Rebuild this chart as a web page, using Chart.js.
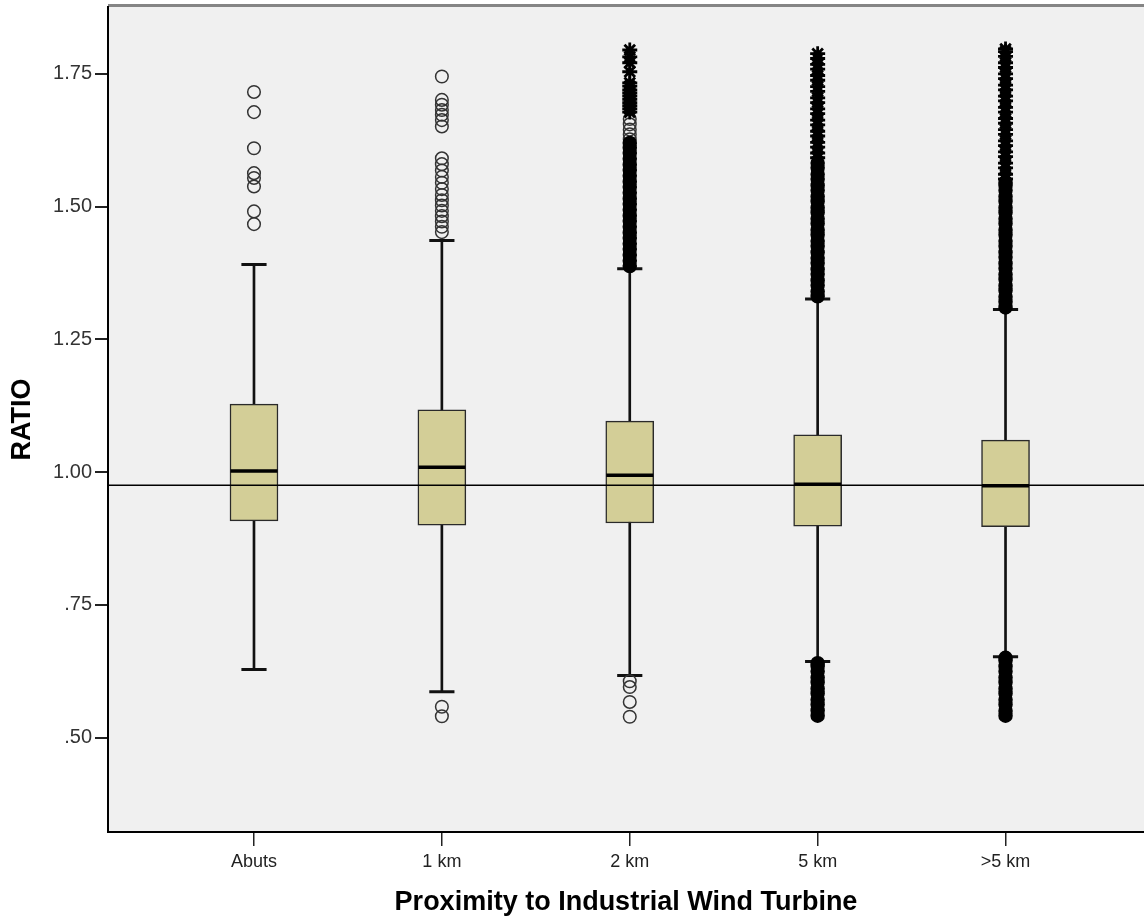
<!DOCTYPE html>
<html>
<head>
<meta charset="utf-8">
<title>RATIO by proximity to industrial wind turbine</title>
<script src="https://cdn.jsdelivr.net/npm/chart.js@4.4.1/dist/chart.umd.min.js"></script>
<style>
  html, body { margin: 0; padding: 0; background: #fff; }
  canvas { display: block; }
</style>
</head>
<body>
<canvas id="chart" width="1144" height="919"></canvas>
<script>
// Box plot values
const categories = ['Abuts', '1 km', '2 km', '5 km', '>5 km'];
const whiskerLow = [0.628, 0.586, 0.617, 0.643, 0.652];
const q1 = [0.908, 0.900, 0.904, 0.898, 0.897];
const median = [1.002, 1.009, 0.994, 0.977, 0.974];
const q3 = [1.128, 1.117, 1.096, 1.070, 1.060];
const whiskerHigh = [1.391, 1.436, 1.383, 1.326, 1.306];
const referenceValue = 0.975;

// outliers drawn as open circles
const mildOutliers = [
    [1.716, 1.678, 1.610, 1.563, 1.554, 1.538, 1.491, 1.467],
    [1.745, 1.701, 1.692, 1.682, 1.673, 1.663, 1.651, 1.591, 1.580, 1.568, 1.556, 1.545, 1.533,
     1.522, 1.512, 1.502, 1.492, 1.482, 1.472, 1.462, 1.452, 0.558, 0.540],
    [1.665, 1.655, 1.645, 1.636, 1.627, 0.606, 0.595, 0.567, 0.539],
    [],
    []
];
// outliers so many they merge into a solid column
const denseOutliers = [
    [],
    [],
    [1.388, 1.398, 1.409, 1.420, 1.430, 1.441, 1.451, 1.462, 1.473, 1.483, 1.494, 1.505, 1.515,
     1.526, 1.537, 1.547, 1.558, 1.569, 1.579, 1.590, 1.601, 1.611, 1.620],
    [1.331, 1.340, 1.352, 1.361, 1.373, 1.382, 1.394, 1.403, 1.414, 1.426, 1.435, 1.447, 1.456,
     1.468, 1.477, 1.489, 1.498, 1.510, 1.519, 1.531, 1.540, 1.552, 1.561, 1.573, 1.582,
     0.541, 0.551, 0.562, 0.571, 0.583, 0.592, 0.604, 0.613, 0.625, 0.634, 0.640],
    [1.310, 1.321, 1.330, 1.342, 1.351, 1.363, 1.372, 1.384, 1.393, 1.405, 1.414, 1.426, 1.435,
     1.447, 1.456, 1.468, 1.477, 1.489, 1.498, 1.510, 1.519, 1.531, 1.540, 1.546,
     0.541, 0.550, 0.562, 0.571, 0.583, 0.592, 0.604, 0.613, 0.625, 0.634, 0.645, 0.650]
];
// extreme values drawn as asterisks
const extremes = [
    [],
    [],
    [1.795, 1.782, 1.771, 1.754, 1.733, 1.727, 1.720, 1.714, 1.708, 1.702, 1.696, 1.690, 1.684, 1.678],
    [1.592, 1.601, 1.612, 1.621, 1.633, 1.642, 1.654, 1.663, 1.675, 1.684, 1.696, 1.705, 1.717,
     1.726, 1.738, 1.747, 1.759, 1.768, 1.779, 1.788],
    [1.552, 1.561, 1.573, 1.582, 1.594, 1.603, 1.615, 1.624, 1.636, 1.645, 1.657, 1.666, 1.678,
     1.687, 1.699, 1.708, 1.720, 1.729, 1.741, 1.750, 1.762, 1.771, 1.783, 1.792, 1.797]
];

const yTicks = [0.50, 0.75, 1.00, 1.25, 1.50, 1.75];
const yTickLabels = ['.50', '.75', '1.00', '1.25', '1.50', '1.75'];

// axis bounds and mark sizes (in axis units)
const xMin = -0.777, xMax = 4.737;
const yMin = 0.322, yMax = 1.876;
const boxHalf = 0.125;
const capHalf = 0.067;

const FONT = 'Arial, "Liberation Sans", sans-serif';
Chart.defaults.font.family = FONT;

function hSegments(values, half) {
    const pts = [];
    values.forEach((v, i) => {
        pts.push({x: i - half, y: v}, {x: i + half, y: v}, {x: i, y: null});
    });
    return pts;
}

function toPoints(lists) {
    const pts = [];
    lists.forEach((list, i) => list.forEach(v => pts.push({x: i, y: v})));
    return pts;
}

const plotBackground = {
    id: 'plotBackground',
    beforeDraw(chart) {
        const {ctx, chartArea: a} = chart;
        ctx.save();
        ctx.fillStyle = '#f0f0f0';
        ctx.fillRect(a.left, a.top, a.right - a.left, a.bottom - a.top);
        ctx.strokeStyle = '#858585';
        ctx.lineWidth = 3;
        ctx.beginPath();
        ctx.moveTo(a.left, a.top - 1.5);
        ctx.lineTo(a.right, a.top - 1.5);
        ctx.stroke();
        ctx.restore();
    }
};

new Chart(document.getElementById('chart'), {
    type: 'bar',
    data: {
        datasets: [
            {
                type: 'bar',
                data: categories.map((c, i) => ({x: i, y: [whiskerLow[i], whiskerHigh[i]]})),
                backgroundColor: '#111',
                barThickness: 2,
                grouped: false,
                order: 10
            },
            {
                type: 'bar',
                data: categories.map((c, i) => ({x: i, y: [q1[i], q3[i]]})),
                backgroundColor: '#d3ce97',
                borderColor: '#2a2a2a',
                borderWidth: 1.5,
                borderSkipped: false,
                barThickness: 48,
                grouped: false,
                order: 9
            },
            {
                type: 'line',
                data: hSegments(median, boxHalf),
                borderColor: '#000',
                borderWidth: 3.5,
                pointRadius: 0,
                spanGaps: false,
                order: 8
            },
            {
                type: 'line',
                data: hSegments(whiskerLow, capHalf).concat(hSegments(whiskerHigh, capHalf)),
                borderColor: '#111',
                borderWidth: 3,
                pointRadius: 0,
                spanGaps: false,
                order: 7
            },
            {
                type: 'line',
                data: [{x: xMin, y: referenceValue}, {x: xMax, y: referenceValue}],
                borderColor: '#000',
                borderWidth: 1.5,
                pointRadius: 0,
                order: 6
            },
            {
                type: 'scatter',
                data: toPoints(mildOutliers),
                pointStyle: 'circle',
                pointRadius: 6.3,
                borderWidth: 1.5,
                borderColor: '#333',
                backgroundColor: 'rgba(0,0,0,0)',
                order: 3
            },
            {
                type: 'scatter',
                data: toPoints(denseOutliers),
                pointStyle: 'circle',
                pointRadius: 6.5,
                borderWidth: 1.5,
                borderColor: '#000',
                backgroundColor: '#000',
                order: 2
            },
            {
                type: 'scatter',
                data: toPoints(extremes),
                pointStyle: 'star',
                pointRadius: 7.5,
                borderWidth: 2.8,
                borderColor: '#000',
                order: 1
            }
        ]
    },
    options: {
        responsive: false,
        animation: false,
        events: [],
        layout: { autoPadding: false, padding: { top: 7, right: 0, bottom: 0, left: 0 } },
        plugins: {
            legend: { display: false },
            tooltip: { enabled: false }
        },
        scales: {
            x: {
                type: 'linear',
                min: xMin,
                max: xMax,
                offset: false,
                grid: { offset: false, drawOnChartArea: false, tickLength: 14, color: '#222', lineWidth: 1.5 },
                border: { color: '#000', width: 2 },
                afterBuildTicks: s => { s.ticks = categories.map((c, i) => ({value: i})); },
                afterFit: s => { s.height = 87; s.paddingLeft = 0; s.paddingRight = 0; },
                ticks: {
                    autoSkip: false,
                    maxRotation: 0,
                    padding: 5,
                    color: '#222',
                    font: { size: 18 },
                    callback: v => categories[v]
                },
                title: {
                    display: true,
                    text: 'Proximity to Industrial Wind Turbine',
                    color: '#000',
                    font: { size: 27, weight: 'bold' },
                    padding: { top: 0, bottom: 0 }
                }
            },
            y: {
                type: 'linear',
                min: yMin,
                max: yMax,
                grid: { drawOnChartArea: false, tickLength: 13, color: '#222', lineWidth: 2 },
                border: { color: '#000', width: 2 },
                afterBuildTicks: s => { s.ticks = yTicks.map(v => ({value: v})); },
                afterFit: s => { s.width = 108; s.paddingTop = 0; s.paddingBottom = 0; },
                ticks: {
                    padding: 3,
                    color: '#333',
                    font: { size: 20 },
                    callback: (v, i) => yTickLabels[i]
                },
                title: {
                    display: true,
                    text: 'RATIO',
                    color: '#000',
                    font: { size: 27, weight: 'bold' },
                    padding: { top: 6, bottom: 0 }
                }
            }
        }
    },
    plugins: [plotBackground]
});
</script>
</body>
</html>
